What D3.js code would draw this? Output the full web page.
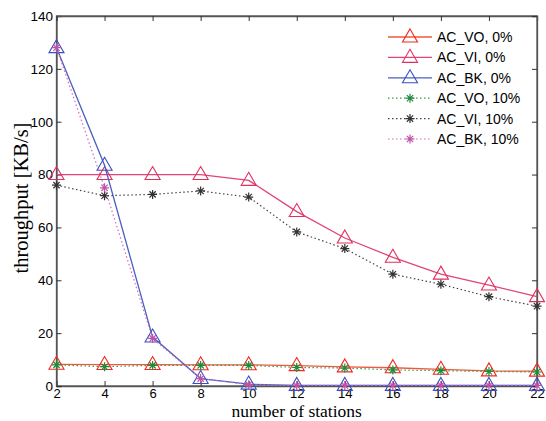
<!DOCTYPE html>
<html><head><meta charset="utf-8">
<script src="https://cdn.jsdelivr.net/npm/d3@7"></script>
<style>body{margin:0;background:#fff}</style>
</head><body>
<script>
const stations = [2,4,6,8,10,12,14,16,18,20,22];
const xTicks = [2,4,6,8,10,12,14,16,18,20,22];
const yTicks = [0,20,40,60,80,100,120,140];
const acVO0  = [8.2,8.1,8.1,8.0,8.0,7.7,7.2,6.9,6.3,5.7,5.6];
const acVI0  = [80,80,80,80,77.8,66,56,48.7,42.3,38.2,33.8];
const acBK0  = [128,83.5,18.5,2.8,0.7,0.2,0.2,0.2,0.2,0.2,0.2];
const acVO10 = [8.0,7.3,7.8,7.8,7.8,7.0,6.8,6.1,5.8,5.5,5.3];
const acVI10 = [76,72,72.5,73.8,71.5,58.3,52,42.3,38.5,33.8,30.2];
const acBK10 = [128,75,18,2.8,0.5,0.2,0.2,0.2,0.2,0.2,0.2];
const seriesNames = ["AC_VO, 0%","AC_VI, 0%","AC_BK, 0%","AC_VO, 10%","AC_VI, 10%","AC_BK, 10%"];

const series = [
  {name:seriesNames[0], vals:acVO0, color:"#f2583e", mcolor:"#ee2a20", dash:null, marker:"tri"},
  {name:seriesNames[1], vals:acVI0, color:"#e0447a", mcolor:"#e0305e", dash:null, marker:"tri"},
  {name:seriesNames[2], vals:acBK0, color:"#4a5fc0", mcolor:"#3a50c0", dash:null, marker:"tri"},
  {name:seriesNames[3], vals:acVO10, color:"#3a9a4a", mcolor:"#208a3a", dash:"1.5,2.5", marker:"star"},
  {name:seriesNames[4], vals:acVI10, color:"#444", mcolor:"#333", dash:"1.5,2.5", marker:"star"},
  {name:seriesNames[5], vals:acBK10, color:"#d46ab8", mcolor:"#c050a8", dash:"1.5,2.5", marker:"star"}
];

const W=546,H=421;
const m={l:56.5,r:9,t:16,b:35};
const svg=d3.select("body").append("svg").attr("width",W).attr("height",H);
const x=d3.scaleLinear().domain([2,22]).range([m.l,W-m.r]);
const y=d3.scaleLinear().domain([0,140]).range([H-m.b,m.t]);

svg.append("rect").attr("x",m.l).attr("y",m.t).attr("width",W-m.r-m.l).attr("height",H-m.b-m.t)
  .attr("fill","#fff").attr("stroke","#555").attr("stroke-width",1.3);

const axFont="'Liberation Sans', Arial, sans-serif";
const xb=svg.append("g").attr("transform",`translate(0,${H-m.b})`)
  .call(d3.axisBottom(x).tickValues(xTicks).tickSize(-5).tickPadding(3).tickFormat(d3.format("d")));
const yl=svg.append("g").attr("transform",`translate(${m.l},0)`)
  .call(d3.axisLeft(y).tickValues(yTicks).tickSize(-5).tickPadding(3.5));
const xt=svg.append("g").attr("transform",`translate(0,${m.t})`)
  .call(d3.axisTop(x).tickValues(xTicks).tickSize(-5).tickFormat(""));
const yr=svg.append("g").attr("transform",`translate(${W-m.r},0)`)
  .call(d3.axisRight(y).tickValues(yTicks).tickSize(-5).tickFormat(""));
[xb,yl,xt,yr].forEach(g=>{
  g.select(".domain").attr("stroke","#555").attr("stroke-width",1.3);
  g.selectAll(".tick line").attr("stroke","#333");
  g.selectAll("text").attr("font-family",axFont).attr("font-size",13.5).attr("fill","#000");
});
xb.selectAll("text").attr("font-size",13);

const line=d3.line().x((d,i)=>x(stations[i])).y(d=>y(d));
const triPath=s=>`M0,${-s*0.62}L${s*0.58},${s*0.38}L${-s*0.58},${s*0.38}Z`;
const starPath=s=>`M${-s},0L${s},0M0,${-s}L0,${s}M${-s*0.7},${-s*0.7}L${s*0.7},${s*0.7}M${-s*0.7},${s*0.7}L${s*0.7},${-s*0.7}`;

function drawMarker(g,s,cx,cy){
  if(s.marker==="tri"){
    g.append("path").attr("d",triPath(13)).attr("transform",`translate(${cx},${cy})`)
      .attr("fill","none").attr("stroke",s.mcolor).attr("stroke-width",1.1);
  } else {
    g.append("path").attr("d",starPath(4.5)).attr("transform",`translate(${cx},${cy})`)
      .attr("fill","none").attr("stroke",s.mcolor).attr("stroke-width",1.2);
  }
}

const plot=svg.append("g");
series.forEach(s=>{
  plot.append("path").datum(s.vals).attr("d",line).attr("fill","none")
    .attr("stroke",s.color).attr("stroke-width",s.dash?1.2:1.3)
    .attr("stroke-dasharray",s.dash);
  s.vals.forEach((v,i)=>drawMarker(plot,s,x(stations[i]),y(v)));
});

const lg=svg.append("g");
series.forEach((s,i)=>{
  const ly=37+i*20.4;
  lg.append("line").attr("x1",388).attr("x2",432).attr("y1",ly).attr("y2",ly)
    .attr("stroke",s.color).attr("stroke-width",s.dash?1.2:1.3).attr("stroke-dasharray",s.dash);
  drawMarker(lg,s,410,ly);
  lg.append("text").attr("x",437).attr("y",ly+5).text(s.name)
    .attr("font-family",axFont).attr("font-size",14).attr("fill","#000");
});

svg.append("text").attr("x",(m.l+W-m.r)/2).attr("y",417).attr("text-anchor","middle")
  .attr("font-family","'Liberation Serif','Times New Roman',serif").attr("font-size",17.5).text("number of stations");
svg.append("text").attr("transform",`translate(28,198) rotate(-90)`).attr("text-anchor","middle")
  .attr("font-family","'Liberation Serif','Times New Roman',serif").attr("font-size",20.5).text("throughput [KB/s]");
</script>
</body></html>
